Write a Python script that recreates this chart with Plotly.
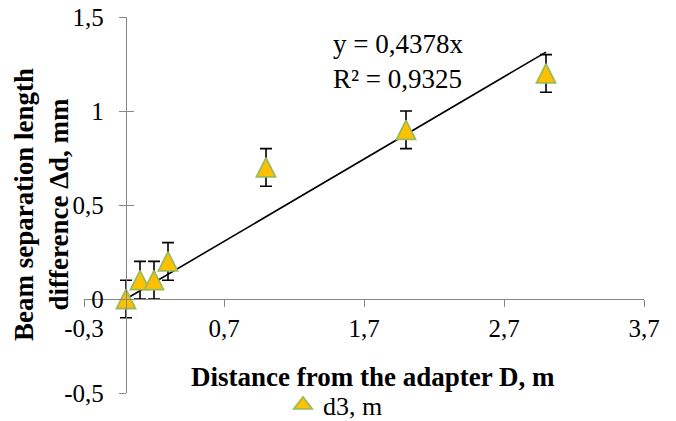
import numpy as np
import plotly.graph_objects as go

# ---- data ----
distance_m = [0.0, 0.1, 0.2, 0.3, 1.0, 2.0, 3.0]
delta_d_mm = [0.0, 0.1, 0.1, 0.2, 0.7, 0.9, 1.2]
error_mm = [0.1, 0.1, 0.1, 0.1, 0.1, 0.1, 0.1]
x_ticks = [-0.3, 0.7, 1.7, 2.7, 3.7]
y_ticks = [-0.5, 0.0, 0.5, 1.0, 1.5]
series_name = "d3, m"

x_range = [-0.3, 3.7]
y_range = [-0.5, 1.5]

def fmt(v):
    return ("%g" % v).replace(".", ",")

# trendline through origin (least squares)
xa = np.array(distance_m)
ya = np.array(delta_d_mm)
slope = float((xa * ya).sum() / (xa * xa).sum())
pred = slope * xa
r2 = 1 - ((ya - pred) ** 2).sum() / ((ya - ya.mean()) ** 2).sum()
x_fit = [float(xa.min()), float(xa.max())]
y_fit = [slope * v for v in x_fit]

FONT = "Liberation Serif"
AX = "#868686"
FILL = "#FFC000"
EDGE = "#9BBB59"
W, H = 676, 421
OFF = 8                      # page body margin
PL, PT, PW, PH = 84, 17, 560, 376   # plot area in page pixels
ML, MT = PL - OFF, PT - OFF
MR, MB = W - ML - PW, H - MT - PH

def px(xp):
    return (xp - PL) / PW

def py(yp):
    return (PT + PH - yp) / PH

fig = go.Figure()
fig.add_trace(go.Scatter(
    x=x_fit, y=y_fit, mode="lines",
    line=dict(color="black", width=1.6),
    showlegend=False, hoverinfo="skip",
))
msize = 19
fig.add_trace(go.Scatter(
    x=distance_m, y=delta_d_mm, mode="markers", name=series_name,
    legendgroup="d3", showlegend=False,
    marker=dict(symbol="arrow-down", angle=180, standoff=msize / 2,
                size=msize, color=FILL,
                line=dict(color=EDGE, width=1.8)),
    error_y=dict(type="data", array=error_mm, visible=True,
                 color="black", thickness=1.6, width=6),
))
# legend entry for the series (same styling, standard triangle glyph)
fig.add_trace(go.Scatter(
    x=[None], y=[None], mode="markers", name=series_name, legendgroup="d3",
    marker=dict(symbol="triangle-up", size=16, color=FILL,
                line=dict(color=EDGE, width=1.8)),
))
# helper invisible trace for inside ticks on y axis
fig.add_trace(go.Scatter(x=[None], y=[None], yaxis="y2", showlegend=False))

x_zero_pos = (0 - x_range[0]) / (x_range[1] - x_range[0])
y_zero_pos = (0 - y_range[0]) / (y_range[1] - y_range[0])

tickfont = dict(family=FONT, size=25, color="black")
fig.update_layout(
    width=W, height=H,
    margin=dict(l=ML, r=MR, t=MT, b=MB, autoexpand=False),
    paper_bgcolor="white", plot_bgcolor="white",
    font=dict(family=FONT, color="black"),
    xaxis=dict(
        range=x_range, domain=[0, 1], anchor="free", position=y_zero_pos,
        tickvals=x_ticks, ticktext=[fmt(v) for v in x_ticks],
        showline=True, linecolor=AX, linewidth=1.4,
        ticks="outside", ticklen=7, tickcolor=AX, tickwidth=1.4,
        showgrid=False, zeroline=False, tickfont=tickfont,
        ticklabelstandoff=0, automargin=False, ticklabeloverflow="allow",
    ),
    yaxis=dict(
        range=y_range, domain=[0, 1], anchor="free", position=x_zero_pos,
        tickvals=y_ticks, ticktext=[fmt(v) for v in y_ticks],
        showline=True, linecolor=AX, linewidth=1.4,
        ticks="outside", ticklen=7, tickcolor=AX, tickwidth=1.4,
        showgrid=False, zeroline=False, tickfont=tickfont,
        ticklabelstandoff=10, automargin=False, ticklabeloverflow="allow",
    ),
    yaxis2=dict(
        range=y_range, domain=[0, 1], anchor="free", position=x_zero_pos,
        overlaying="y", tickvals=y_ticks, showticklabels=False,
        showline=False, ticks="inside", ticklen=7, tickcolor=AX, tickwidth=1.4,
        showgrid=False, zeroline=False, automargin=False,
    ),
    legend=dict(
        orientation="h", x=px(283), xanchor="left",
        y=py(405), yanchor="middle",
        font=dict(family=FONT, size=26, color="black"),
        bgcolor="rgba(0,0,0,0)", itemwidth=30,
    ),
    showlegend=True,
)

fig.add_annotation(
    text="<b>Distance from the adapter D, m</b>", xref="paper", yref="paper",
    x=px(373), y=py(377),
    xanchor="center", yanchor="middle", showarrow=False,
    font=dict(family=FONT, size=27, color="black"),
)
fig.add_annotation(
    text="<b>Beam separation length</b><br><b>difference Δd, mm</b>",
    xref="paper", yref="paper",
    x=px(41), y=py(205),
    xanchor="center", yanchor="middle", showarrow=False, textangle=-90,
    font=dict(family=FONT, size=27, color="black"),
)
fig.add_annotation(
    text="y = %sx<br>R² = %s" % (("%.4f" % slope).replace(".", ","),
                                 ("%.4f" % r2).replace(".", ",")),
    xref="paper", yref="paper",
    x=px(331), y=py(62),
    xanchor="left", yanchor="middle", showarrow=False, align="left",
    font=dict(family=FONT, size=27, color="black"),
)

fig.write_html("out.html")
